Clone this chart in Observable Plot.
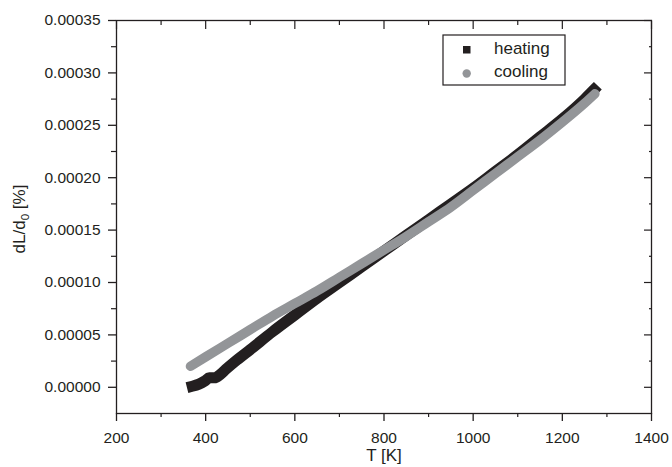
<!DOCTYPE html>
<html><head><meta charset="utf-8">
<script src="https://cdn.jsdelivr.net/npm/d3@7"></script>
<script src="https://cdn.jsdelivr.net/npm/@observablehq/plot@0.6"></script>
<style>body{margin:0;background:#fff} svg{display:block}</style>
</head><body><div id="chart"></div>
<script>
// Heating series (T in K, dL/d0 in %)
const heatingT = [370, 385, 398, 408, 420, 432, 445, 470, 500, 550, 600, 650, 700, 750, 800, 850, 900, 950, 1000, 1050, 1100, 1150, 1200, 1250, 1271];
const heatingV = [0.000001, 0.000003, 0.000006, 0.000009, 0.000009, 0.000012, 0.000017, 0.000026, 0.000036, 0.000053, 0.000069, 0.000085, 0.000100, 0.000115, 0.000130, 0.000145, 0.000160, 0.000175, 0.000190, 0.000206, 0.000222, 0.000239, 0.000256, 0.000275, 0.000284];
// Cooling series
const coolingT = [366, 400, 450, 500, 550, 600, 650, 700, 750, 800, 850, 900, 950, 1000, 1050, 1100, 1150, 1200, 1250, 1273];
const coolingV = [0.000020, 0.000029, 0.000042, 0.000055, 0.000068, 0.000080, 0.000092, 0.000105, 0.000118, 0.000131, 0.000144, 0.000158, 0.000172, 0.000188, 0.000204, 0.000220, 0.000236, 0.000253, 0.000271, 0.000280];

const seriesNames = ["heating", "cooling"];
const xMajor = [200, 400, 600, 800, 1000, 1200, 1400];
const xMinor = [300, 500, 700, 900, 1100, 1300];
const yMajor = [0, 0.00005, 0.0001, 0.00015, 0.0002, 0.00025, 0.0003, 0.00035];
const yMinor = [0.000025, 0.000075, 0.000125, 0.000175, 0.000225, 0.000275, 0.000325];
const xTitle = "T [K]";

const heating = heatingT.map((T, i) => ({T, v: heatingV[i]}));
const cooling = coolingT.map((T, i) => ({T, v: coolingV[i]}));

const ink = "#231f20", grey = "#939598";
const W = 672, H = 467, mL = 116, mR = 21, mT = 20, mB = 54;
const blank = () => "";

const chart = Plot.plot({
  width: W, height: H,
  marginLeft: mL, marginRight: mR, marginTop: mT, marginBottom: mB,
  style: {fontFamily: "'Liberation Sans', Arial, sans-serif", fontSize: "15.5px", color: ink, background: "#fff"},
  x: {domain: [200, 1400]},
  y: {domain: [-0.000025, 0.00035]},
  marks: [
    Plot.line(heating, {x: "T", y: "v", stroke: ink, strokeWidth: 11, strokeLinecap: "square", strokeLinejoin: "round", curve: "monotone-x"}),
    Plot.line(cooling, {x: "T", y: "v", stroke: grey, strokeWidth: 9.5, strokeLinecap: "round", strokeLinejoin: "round", curve: "monotone-x"}),
    Plot.frame({stroke: ink, strokeWidth: 1.3}),
    Plot.axisX({ticks: xMajor, tickSize: 8, tickPadding: 10, tickFormat: d => String(d), label: null, stroke: ink, strokeWidth: 1.3, fill: ink}),
    Plot.axisX({ticks: xMinor, tickSize: 4, tickFormat: blank, label: null, stroke: ink, strokeWidth: 1.2}),
    Plot.axisX({anchor: "top", ticks: xMajor, tickSize: 8, dy: 8, tickFormat: blank, label: null, stroke: ink, strokeWidth: 1.2}),
    Plot.axisX({anchor: "top", ticks: xMinor, tickSize: 4, dy: 4, tickFormat: blank, label: null, stroke: ink, strokeWidth: 1.2}),
    Plot.axisY({ticks: yMajor, tickSize: 8, tickPadding: 8, tickFormat: d => d.toFixed(5), label: null, stroke: ink, strokeWidth: 1.3, fill: ink}),
    Plot.axisY({ticks: yMinor, tickSize: 5, tickFormat: blank, label: null, stroke: ink, strokeWidth: 1.2}),
    Plot.axisY({anchor: "right", ticks: yMajor, tickSize: 8, dx: -8, tickFormat: blank, label: null, stroke: ink, strokeWidth: 1.2}),
    Plot.axisY({anchor: "right", ticks: yMinor, tickSize: 3, dx: -3, tickFormat: blank, label: null, stroke: ink, strokeWidth: 1.2})
  ]
});

const svg = d3.select(chart);
const font = "'Liberation Sans', Arial, sans-serif";
// x title
svg.append("text").attr("x", mL + (W - mL - mR) / 2 + 0.5).attr("y", 461)
  .attr("text-anchor", "middle").attr("font-family", font).attr("font-size", 17).attr("fill", ink).text(xTitle);
// y title with subscript
const yt = svg.append("text").attr("transform", "translate(25,219) rotate(-90)")
  .attr("text-anchor", "middle").attr("font-family", font).attr("font-size", 17).attr("fill", ink);
yt.append("tspan").text("dL/d");
yt.append("tspan").attr("font-size", 11.5).attr("dy", 4).text("0");
yt.append("tspan").attr("dy", -4).text(" [%]");

// legend
const lg = svg.append("g").attr("text-anchor", "start");
lg.append("rect").attr("x", 443).attr("y", 35).attr("width", 122).attr("height", 50)
  .attr("fill", "#fff").attr("stroke", ink).attr("stroke-width", 1.2);
lg.append("rect").attr("x", 463).attr("y", 46).attr("width", 7.5).attr("height", 7.5).attr("fill", ink);
lg.append("circle").attr("cx", 466.7).attr("cy", 73.5).attr("r", 4.2).attr("fill", grey);
lg.append("text").attr("x", 494).attr("y", 54).attr("text-anchor", "start").attr("font-family", font).attr("font-size", 17).attr("fill", ink).text(seriesNames[0]);
lg.append("text").attr("x", 494).attr("y", 77).attr("text-anchor", "start").attr("font-family", font).attr("font-size", 17).attr("fill", ink).text(seriesNames[1]);

document.getElementById("chart").appendChild(chart);
</script>
</body></html>
